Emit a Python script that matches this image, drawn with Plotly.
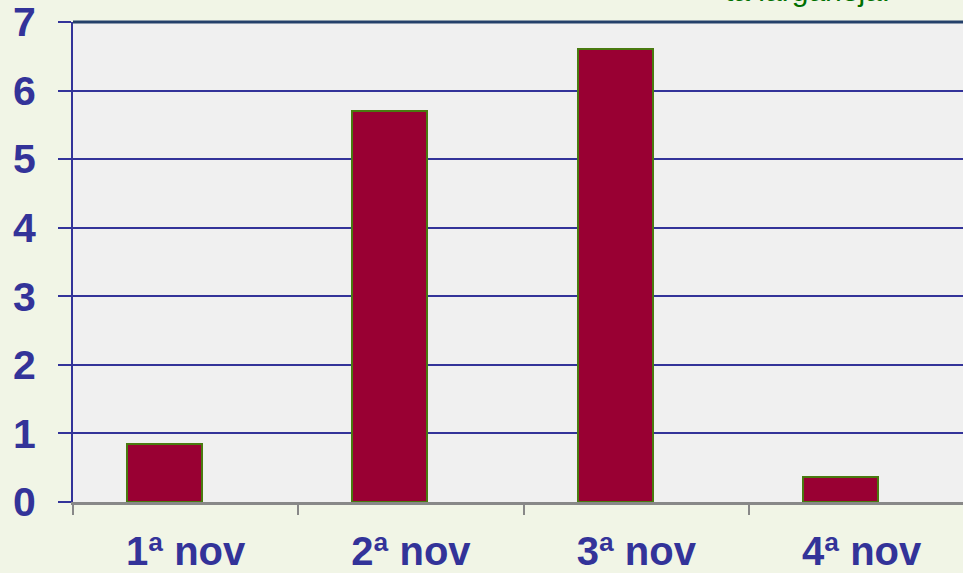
import plotly.graph_objects as go

categories = ["1ª nov", "2ª nov", "3ª nov", "4ª nov"]
values = [0.85, 5.7, 6.6, 0.37]
y_ticks = [0, 1, 2, 3, 4, 5, 6, 7]

NAVY = "#333399"
FONT = "Arial, Liberation Sans, sans-serif"

fig = go.Figure()
fig.add_trace(go.Bar(
    x=categories, y=values,
    width=0.333, offset=-0.26,
    marker=dict(color="#990033", line=dict(color="#4A7A10", width=2)),
))

fig.update_layout(
    width=963, height=573,
    margin=dict(l=73, r=0, t=22, b=71),
    paper_bgcolor="#F1F5E6",
    plot_bgcolor="#F0F0F0",
    showlegend=False,
    bargap=0,
    font=dict(family=FONT),
)
fig.update_xaxes(
    type="category", range=[-0.5, 3.45],
    tickson="boundaries", ticks="outside", ticklen=10, tickwidth=2, tickcolor="#888888",
    showline=True, linecolor="#888888", linewidth=3,
    showgrid=False,
    tickfont=dict(size=40, color=NAVY, family=FONT, weight="bold"),
    ticklabelstandoff=12,
)
fig.update_yaxes(
    range=[0, 7.0], tickvals=y_ticks, ticktext=[str(v) for v in y_ticks],
    showgrid=True, gridcolor=NAVY, gridwidth=2,
    ticks="outside", ticklen=13, tickwidth=2, tickcolor=NAVY,
    showline=True, linecolor=NAVY, linewidth=2,
    zeroline=False,
    ticklabeloverflow="allow",
    tickfont=dict(size=41, color=NAVY, family=FONT, weight="bold"),
    ticklabelstandoff=14,
)
# top border of the plot area
fig.add_shape(type="line", xref="paper", yref="paper", x0=0, x1=1, y0=1, y1=1,
              line=dict(color="#24406A", width=3))
fig.add_annotation(
    text="ta larganeja.", xref="paper", yref="paper", x=0.92, y=1.0, yshift=13,
    xanchor="right", yanchor="bottom", showarrow=False,
    font=dict(size=30, color="#007000", family=FONT),
)
fig.write_html("out.html", config={"displayModeBar": False},
               post_script="document.body.style.margin='0';")
